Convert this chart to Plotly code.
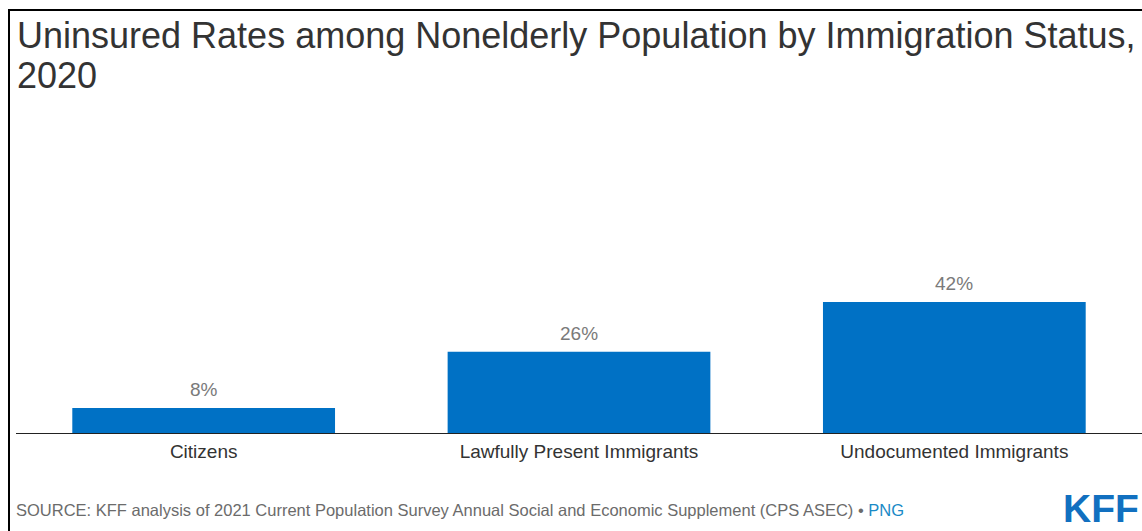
import plotly.graph_objects as go

categories = ["Citizens", "Lawfully Present Immigrants", "Undocumented Immigrants"]
values = [8, 26, 42]
labels = ["8%", "26%", "42%"]

title_lines = ["Uninsured Rates among Nonelderly Population by Immigration Status,", "2020"]
source_text = ("SOURCE: KFF analysis of 2021 Current Population Survey Annual Social and Economic "
               "Supplement (CPS ASEC) • <span style='color:#1a8ac6'>PNG</span>")

W, H = 1142, 531
BAR_COLOR = "#0071c5"
FONT = "Arial, Liberation Sans, sans-serif"
PLOT_TOP, PLOT_H, PLOT_W = 100, 333, 1126

def py(pix):
    return 1 - (pix - PLOT_TOP) / PLOT_H

def px(pix):
    return (pix - 16) / PLOT_W

fig = go.Figure()
fig.add_trace(go.Bar(
    x=categories, y=values, marker=dict(color=BAR_COLOR, line=dict(width=0)),
    width=0.7, hoverinfo="skip",
))

for c, v, t in zip(categories, values, labels):
    fig.add_annotation(x=c, y=v, text=t, showarrow=False, yanchor="bottom",
                       yshift=6, font=dict(family=FONT, size=19, color="#7a7a7a"))

fig.update_layout(
    width=W, height=H,
    margin=dict(l=16, r=0, t=PLOT_TOP, b=H - PLOT_TOP - PLOT_H),
    paper_bgcolor="white", plot_bgcolor="white",
    showlegend=False,
    bargap=0.3,
    xaxis=dict(showline=True, linecolor="#222222", linewidth=1, showgrid=False,
               ticks="", tickfont=dict(family=FONT, size=19, color="#333333"),
               ticklabelstandoff=1,
               range=[-0.5, 2.5], fixedrange=True),
    yaxis=dict(visible=False, range=[0, 106.7], showgrid=False, zeroline=False,
               fixedrange=True),
)

# title (two lines, tighter spacing)
for line, ycen in zip(title_lines, [35, 75]):
    fig.add_annotation(text=line, xref="paper", yref="paper",
                       x=px(15), xanchor="left", y=py(ycen), yanchor="middle",
                       align="left", showarrow=False,
                       font=dict(family=FONT, size=36, color="#333333"))

# frame lines (top and left)
fig.add_shape(type="line", xref="paper", yref="paper",
              x0=px(8), x1=1.02, y0=py(10), y1=py(10),
              line=dict(color="black", width=2))
fig.add_shape(type="line", xref="paper", yref="paper",
              x0=px(9), x1=px(9), y0=py(540), y1=py(10),
              line=dict(color="black", width=2))

fig.add_annotation(text=source_text, xref="paper", yref="paper",
                   x=px(14), xanchor="left", y=py(510), yanchor="middle",
                   showarrow=False, font=dict(family=FONT, size=16.5, color="#6b6b6b"))
fig.add_annotation(text="<b>KFF</b>", xref="paper", yref="paper",
                   x=px(1141), xanchor="right", y=py(508), yanchor="middle",
                   showarrow=False,
                   font=dict(family="Liberation Sans Narrow, Arial Narrow, Arial", size=39, color="#1170c0"))

fig.write_html("out.html")
